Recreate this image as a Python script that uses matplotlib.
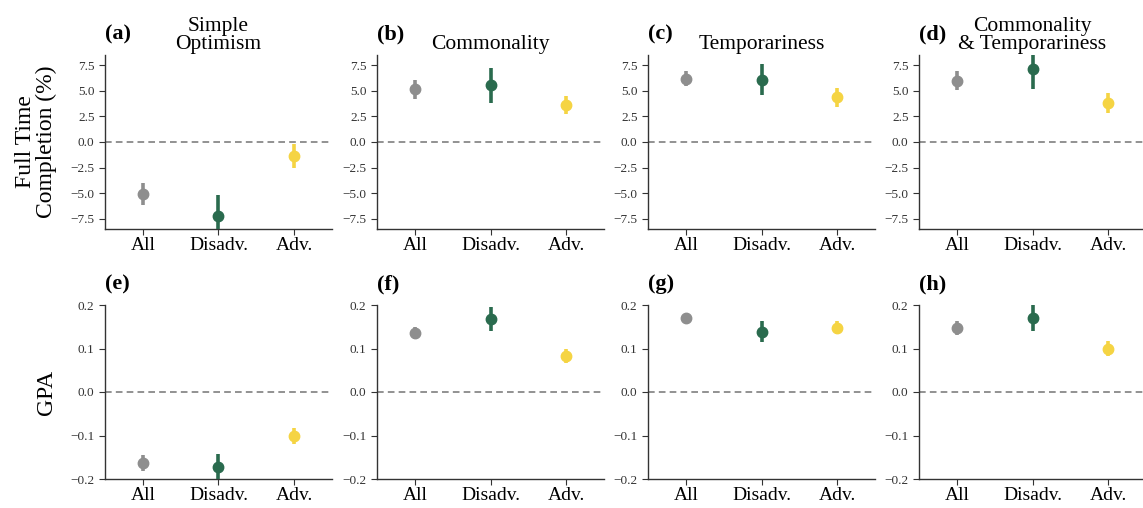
import matplotlib
matplotlib.use("Agg")
import matplotlib.pyplot as plt

plt.rcParams["font.family"] = ["Liberation Serif", "DejaVu Serif"]

groups = ["All", "Disadv.", "Adv."]
colors = ["#8e8e8e", "#2a6b4e", "#f5d443"]

panel_letters = ["(a)", "(b)", "(c)", "(d)", "(e)", "(f)", "(g)", "(h)"]
titles = ["Simple\nOptimism", "Commonality", "Temporariness", "Commonality\n& Temporariness"]

# Full time completion (%): estimate and half-width of interval
ftc_mean = [
    [-5.1, -7.2, -1.35],
    [5.15, 5.55, 3.6],
    [6.2, 6.1, 4.35],
    [6.0, 7.1, 3.8],
]
ftc_err = [
    [1.1, 2.0, 1.15],
    [0.9, 1.7, 0.9],
    [0.7, 1.5, 0.9],
    [0.95, 1.9, 1.0],
]

# GPA
gpa_mean = [
    [-0.163, -0.173, -0.101],
    [0.136, 0.168, 0.082],
    [0.170, 0.139, 0.148],
    [0.148, 0.170, 0.100],
]
gpa_err = [
    [0.018, 0.031, 0.019],
    [0.014, 0.028, 0.016],
    [0.010, 0.024, 0.015],
    [0.016, 0.030, 0.018],
]

W, H = 1143, 508
fig = plt.figure(figsize=(W / 100, H / 100), dpi=100)

lefts = [105, 377, 648, 919]
aw = 227
rows = [(55, 229), (305, 479)]

for r, (top, bot) in enumerate(rows):
    means = ftc_mean if r == 0 else gpa_mean
    errs = ftc_err if r == 0 else gpa_err
    for c in range(4):
        ax = fig.add_axes([lefts[c] / W, 1 - bot / H, aw / W, (bot - top) / H])
        for i in range(3):
            ax.errorbar(i, means[c][i], yerr=errs[c][i], fmt="o", color=colors[i],
                        ms=7.5, elinewidth=2.6, capsize=0, zorder=3)
        ax.axhline(0, color="#7f7f7f", ls=(0, (4, 2.5)), lw=1.2, zorder=1)
        ax.set_xlim(-0.5, 2.5)
        if r == 0:
            ax.set_ylim(-8.5, 8.5)
            ax.set_yticks([-7.5, -5.0, -2.5, 0.0, 2.5, 5.0, 7.5])
        else:
            ax.set_ylim(-0.2, 0.2)
            ax.set_yticks([-0.2, -0.1, 0.0, 0.1, 0.2])
        ax.set_xticks(range(3))
        ax.set_xticklabels(groups, fontsize=14)
        ax.tick_params(axis="y", labelsize=9.5, colors="#333333", length=4)
        ax.tick_params(axis="x", colors="#333333", labelcolor="black", length=4, pad=2)
        ax.spines["top"].set_visible(False)
        ax.spines["right"].set_visible(False)
        for s in ["left", "bottom"]:
            ax.spines[s].set_color("#333333")
            ax.spines[s].set_linewidth(1.0)

        ax.text(0.0, 1.12, panel_letters[r * 4 + c], transform=ax.transAxes,
                fontsize=16, fontweight="bold", ha="left", va="center")
        if r == 0:
            ax.set_title(titles[c], fontsize=15.5, pad=4, linespacing=0.95)
        if c == 0:
            if r == 0:
                ax.set_ylabel("Full Time\nCompletion (%)", fontsize=17, linespacing=1.0)
            else:
                ax.set_ylabel("GPA", fontsize=17)
            ax.yaxis.set_label_coords(-0.21, 0.5)

fig.savefig("out.png", dpi=100)
